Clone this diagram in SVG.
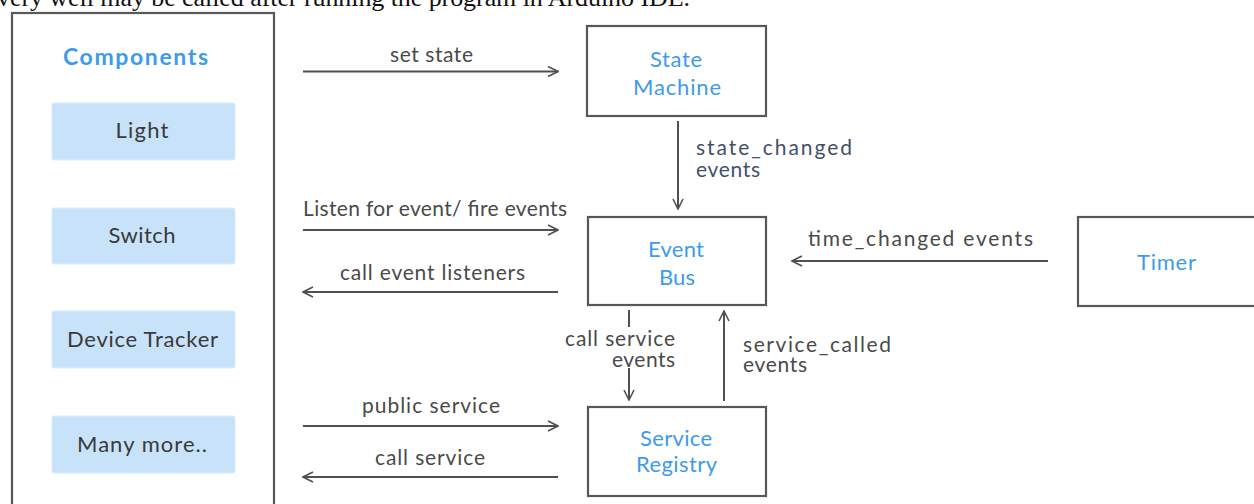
<svg xmlns="http://www.w3.org/2000/svg" width="1254" height="504" viewBox="0 0 1254 504">
<style>
.box{fill:#fff;stroke:#585858;stroke-width:2.2}
.comp{fill:#c8e3f9;stroke:#d6ebfb;stroke-width:1}
.ct{font-family:Lato,"Noto Sans",sans-serif;font-size:22px;fill:#3a3a3a;text-anchor:middle}
.nt{font-family:Lato,"Noto Sans",sans-serif;font-size:22px;fill:#3d9be9;text-anchor:middle}
.lt{font-family:Lato,"Noto Sans",sans-serif;font-size:21px;fill:#4a4a4a}
.sl{fill:#43506b}
.ln{stroke:#505050;stroke-width:2;fill:none}
</style>
<defs>
<marker id="ah" viewBox="0 0 12 12" refX="11" refY="6" markerWidth="12" markerHeight="12" markerUnits="userSpaceOnUse" orient="auto">
<path d="M1,1 L11,6 L1,11" fill="none" stroke="#505050" stroke-width="1.6"/>
</marker>
</defs>
<rect width="1254" height="504" fill="#fff"/>
<text x="-3" y="6" font-family="Liberation Serif,serif" font-size="26" fill="#111" textLength="693" lengthAdjust="spacing">very well may be called after running the program in Arduino IDE.</text>

<g id="components">
<rect x="12" y="13" width="262" height="500" class="box"/>
<text x="135.5" y="65" class="nt" style="font-size:23px;font-weight:bold" textLength="145" lengthAdjust="spacing">Components</text>
</g>
<g id="light"><rect x="52" y="103" width="183" height="57" rx="2" class="comp"/><text x="142" y="138" class="ct" textLength="53" lengthAdjust="spacing">Light</text></g>
<g id="switch"><rect x="52" y="208" width="183" height="56" rx="2" class="comp"/><text x="142" y="243" class="ct" textLength="67" lengthAdjust="spacing">Switch</text></g>
<g id="device-tracker"><rect x="52" y="311" width="183" height="57" rx="2" class="comp"/><text x="142.5" y="347" class="ct" textLength="151" lengthAdjust="spacing">Device Tracker</text></g>
<g id="many-more"><rect x="52" y="416" width="183" height="57" rx="2" class="comp"/><text x="142" y="452" class="ct" textLength="130" lengthAdjust="spacing">Many more..</text></g>

<g id="state-machine"><rect x="587" y="26" width="179" height="90" class="box"/><text x="676" y="67" class="nt" textLength="52" lengthAdjust="spacing">State</text><text x="677" y="95" class="nt" textLength="88" lengthAdjust="spacing">Machine</text></g>
<g id="event-bus"><rect x="588" y="217" width="178" height="88" class="box"/><text x="676" y="257" class="nt" textLength="56" lengthAdjust="spacing">Event</text><text x="677" y="285" class="nt" textLength="36" lengthAdjust="spacing">Bus</text></g>
<g id="service-registry"><rect x="588" y="407" width="178" height="89" class="box"/><text x="676" y="446" class="nt" textLength="72" lengthAdjust="spacing">Service</text><text x="676.5" y="472" class="nt" textLength="81" lengthAdjust="spacing">Registry</text></g>
<g id="timer"><rect x="1078" y="217" width="178" height="89" class="box"/><text x="1166.5" y="270" class="nt" textLength="59" lengthAdjust="spacing">Timer</text></g>

<g id="connectors">
<line x1="303" y1="71.5" x2="558" y2="71.5" class="ln" marker-end="url(#ah)"/>
<text x="431.5" y="62" class="lt" text-anchor="middle" textLength="83" lengthAdjust="spacing">set state</text>

<line x1="678" y1="121" x2="678" y2="209" class="ln" marker-end="url(#ah)"/>
<text x="696" y="155" class="lt sl" textLength="156" lengthAdjust="spacing">state_changed</text>
<text x="696" y="177" class="lt sl" textLength="64" lengthAdjust="spacing">events</text>

<line x1="303" y1="230" x2="558" y2="230" class="ln" marker-end="url(#ah)"/>
<text x="435" y="216" class="lt" text-anchor="middle" textLength="264" lengthAdjust="spacing">Listen for event/ fire events</text>

<line x1="558" y1="292" x2="303" y2="292" class="ln" marker-end="url(#ah)"/>
<text x="432.5" y="280" class="lt" text-anchor="middle" textLength="185" lengthAdjust="spacing">call event listeners</text>

<line x1="1048" y1="261" x2="792" y2="261" class="ln" marker-end="url(#ah)"/>
<text x="920.5" y="246" class="lt" text-anchor="middle" textLength="225" lengthAdjust="spacing">time_changed events</text>

<line x1="629" y1="310" x2="629" y2="327" class="ln"/>
<line x1="629" y1="368" x2="629" y2="400" class="ln" marker-end="url(#ah)"/>
<text x="675" y="346" class="lt" text-anchor="end" textLength="110" lengthAdjust="spacing">call service</text>
<text x="675" y="367" class="lt" text-anchor="end" textLength="63" lengthAdjust="spacing">events</text>

<line x1="724" y1="401" x2="724" y2="311" class="ln" marker-end="url(#ah)"/>
<text x="743" y="352" class="lt" textLength="148" lengthAdjust="spacing">service_called</text>
<text x="743" y="372" class="lt" textLength="64" lengthAdjust="spacing">events</text>

<line x1="303" y1="426" x2="558" y2="426" class="ln" marker-end="url(#ah)"/>
<text x="431" y="413" class="lt" text-anchor="middle" textLength="138" lengthAdjust="spacing">public service</text>

<line x1="558" y1="477" x2="303" y2="477" class="ln" marker-end="url(#ah)"/>
<text x="430" y="465" class="lt" text-anchor="middle" textLength="110" lengthAdjust="spacing">call service</text>
</g>
</svg>
